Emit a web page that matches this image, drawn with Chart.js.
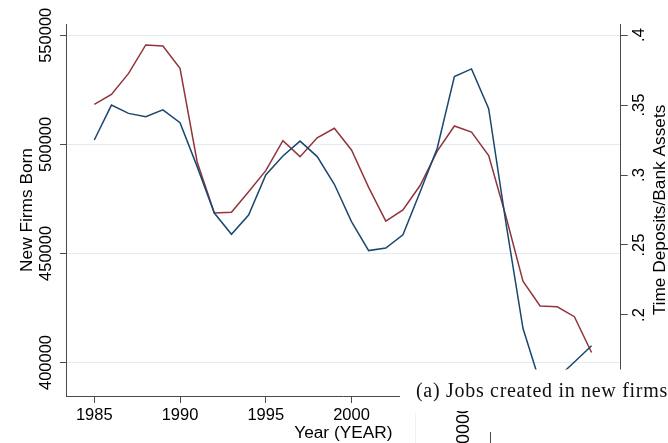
<!DOCTYPE html>
<html>
<head>
<meta charset="utf-8">
<script src="https://cdn.jsdelivr.net/npm/chart.js@4.4.1/dist/chart.umd.min.js"></script>
<style>
  html, body { margin: 0; padding: 0; background: #fff; }
  canvas { display: block; }
</style>
</head>
<body>
<canvas id="chart" width="668" height="443"></canvas>
<script>
// Yearly series, 1985-2014
const years = [1985, 1986, 1987, 1988, 1989, 1990, 1991, 1992, 1993, 1994,
               1995, 1996, 1997, 1998, 1999, 2000, 2001, 2002, 2003, 2004,
               2005, 2006, 2007, 2008, 2009, 2010, 2011, 2012, 2013, 2014];

// New firms born (left axis)
const newFirmsBorn = [502000, 518000, 514200, 512700, 515800, 509900, 489800, 468500, 458800, 467600,
                      486000, 494700, 501500, 494400, 481700, 464600, 451300, 452500, 458500, 478200,
                      498200, 531100, 534600, 516400, 464400, 415700, 390600, 392900, 400200, 407700];

// Time deposits / bank assets (right axis)
const timeDepositShare = [0.3505, 0.3576, 0.3726, 0.3929, 0.3921, 0.3762, 0.3093, 0.2729, 0.2734, 0.2881,
                          0.3031, 0.3245, 0.3131, 0.3266, 0.3334, 0.3179, 0.2912, 0.2671, 0.2750, 0.2925,
                          0.3171, 0.3350, 0.3307, 0.3139, 0.2707, 0.2241, 0.2064, 0.2059, 0.1988, 0.1732];

// Tick values
const yearTicks = [1985, 1990, 1995, 2000, 2005, 2010];
const firmTicks = [400000, 450000, 500000, 550000];
const depositTicks = [0.2, 0.25, 0.3, 0.35, 0.4];

// Text
const xTitle = 'Year (YEAR)';
const leftTitle = 'New Firms Born';
const rightTitle = 'Time Deposits/Bank Assets';
const caption = '(a) Jobs created in new firms';
const nextPanelLabel = '00000';

const SANS = '"Liberation Sans", Arial, Helvetica, sans-serif';
const SERIF = '"Liberation Serif", "Times New Roman", serif';
const AXIS = '#4a4a4a';
const GRID = '#e3ebf0';
const TICK_FONT = { family: SANS, size: 16.5 };
const TITLE_FONT = { family: SANS, size: 17.3 };

const fixedTicks = (values) => (scale) => { scale.ticks = values.map(v => ({ value: v })); };

const shareLabel = (v) => Number(v).toFixed(2).replace(/0+$/, '').replace(/\.$/, '').replace(/^0(?=\.)/, '');

// Right-axis title, caption strip and the neighbouring panel's edge
const panelOverlay = {
  id: 'panelOverlay',
  afterDraw(chart) {
    const c = chart.ctx;
    const r = chart.scales.yR;

    c.save();
    c.translate(660, (r.top + r.bottom) / 2);
    c.rotate(-Math.PI / 2);
    c.font = `${TITLE_FONT.size}px ${SANS}`;
    c.fillStyle = '#000';
    c.textAlign = 'center';
    c.textBaseline = 'middle';
    c.fillText(rightTitle, 0, 0);
    c.restore();

    c.save();
    c.fillStyle = '#fff';
    c.fillRect(400, 369.5, 268, 73.5);

    c.font = `20px ${SERIF}`;
    if ('letterSpacing' in c) c.letterSpacing = '0.7px';
    c.fillStyle = '#111';
    c.textAlign = 'left';
    c.textBaseline = 'alphabetic';
    c.fillText(caption, 416, 397);
    if ('letterSpacing' in c) c.letterSpacing = '0px';

    // faint frame edge of the panel below
    c.strokeStyle = '#f0f0f0';
    c.lineWidth = 1;
    c.beginPath();
    c.moveTo(415.5, 413);
    c.lineTo(415.5, 443);
    c.stroke();

    // clipped tick label of the panel below
    c.save();
    c.beginPath();
    c.rect(440, 411, 50, 32);
    c.clip();
    c.translate(469, 404);
    c.rotate(-Math.PI / 2);
    c.font = `18px ${SANS}`;
    c.fillStyle = '#000';
    c.textAlign = 'right';
    c.textBaseline = 'alphabetic';
    c.fillText(nextPanelLabel, 0, 0);
    c.restore();

    c.strokeStyle = AXIS;
    c.beginPath();
    c.moveTo(490.5, 432);
    c.lineTo(490.5, 443);
    c.stroke();
    c.restore();
  }
};

new Chart(document.getElementById('chart'), {
  type: 'line',
  data: {
    datasets: [
      {
        label: leftTitle,
        data: years.map((yr, i) => ({ x: yr, y: newFirmsBorn[i] })),
        yAxisID: 'yL',
        borderColor: '#1a476f',
        borderWidth: 1.5,
        pointRadius: 0,
        tension: 0,
        fill: false
      },
      {
        label: rightTitle,
        data: years.map((yr, i) => ({ x: yr, y: timeDepositShare[i] })),
        yAxisID: 'yR',
        borderColor: '#90353b',
        borderWidth: 1.5,
        pointRadius: 0,
        tension: 0,
        fill: false
      }
    ]
  },
  options: {
    responsive: false,
    animation: false,
    devicePixelRatio: 1,
    layout: { padding: { top: 24, left: 0, right: 0, bottom: 0 } },
    plugins: { legend: { display: false }, tooltip: { enabled: false } },
    scales: {
      x: {
        type: 'linear',
        position: 'bottom',
        min: 1983.35,
        max: 2015.7,
        afterBuildTicks: fixedTicks(yearTicks),
        afterFit: (s) => { s.height = 47; },
        grid: { drawOnChartArea: false, drawTicks: true, tickLength: 7, tickColor: AXIS, tickWidth: 1 },
        border: { display: true, color: AXIS, width: 1 },
        ticks: {
          autoSkip: false, minRotation: 0, maxRotation: 0, padding: 3,
          color: '#000', font: TICK_FONT,
          callback: (v) => String(v)
        },
        title: { display: true, text: xTitle, color: '#000', font: TITLE_FONT, padding: { top: 0, bottom: -1 } }
      },
      yL: {
        type: 'linear',
        position: 'left',
        min: 384642,
        max: 555180,
        afterBuildTicks: fixedTicks(firmTicks),
        afterFit: (s) => { s.width = 66; },
        grid: { drawOnChartArea: true, color: GRID, lineWidth: 1, drawTicks: true, tickLength: 6, tickColor: AXIS, tickWidth: 1 },
        border: { display: true, color: AXIS, width: 1 },
        ticks: {
          autoSkip: false, minRotation: 90, maxRotation: 90, crossAlign: 'center', padding: -14,
          color: '#000', font: TICK_FONT,
          callback: (v) => String(v)
        },
        title: { display: true, text: leftTitle, color: '#000', font: TITLE_FONT, padding: { top: 17, bottom: 0 } }
      },
      yR: {
        type: 'linear',
        position: 'right',
        min: 0.14214,
        max: 0.40786,
        afterBuildTicks: fixedTicks(depositTicks),
        afterFit: (s) => { s.width = 47.3; },
        grid: { drawOnChartArea: false, drawTicks: true, tickLength: 7, tickColor: AXIS, tickWidth: 1 },
        border: { display: true, color: AXIS, width: 1 },
        ticks: {
          autoSkip: false, minRotation: 90, maxRotation: 90, crossAlign: 'center', padding: 0.5,
          color: '#000', font: TICK_FONT,
          callback: shareLabel
        }
      }
    }
  },
  plugins: [panelOverlay]
});
</script>
</body>
</html>
